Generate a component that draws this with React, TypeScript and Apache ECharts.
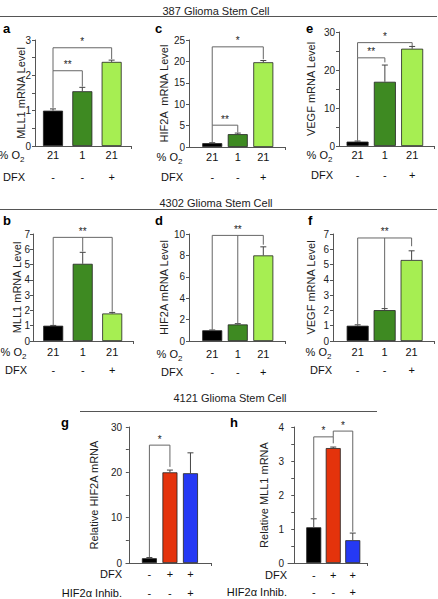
import React, { useEffect, useRef } from 'react';
import * as echarts from 'echarts';

const FONT = '"Liberation Sans", Arial, Helvetica, sans-serif';

// category label rows
const o2Labels = ['21', '1', '21'];
const dfxLabels387 = ['-', '-', '+'];
const dfxLabels4121 = ['-', '+', '+'];
const inhibLabels = ['-', '-', '+'];

// 387 Glioma Stem Cell
const mll1_387 = [1.0, 1.55, 2.38];
const mll1_387Err = [1.05, 1.66, 2.43];
const hif2a_387 = [0.9, 3.0, 19.8];
const hif2a_387Err = [1.0, 3.25, 20.2];
const vegf_387 = [1.15, 16.9, 25.6];
const vegf_387Err = [1.3, 21.3, 26.2];

// 4302 Glioma Stem Cell
const mll1_4302 = [1.0, 5.05, 1.8];
const mll1_4302Err = [1.02, 5.8, 1.87];
const hif2a_4302 = [1.0, 1.55, 8.0];
const hif2a_4302Err = [1.03, 1.62, 8.8];
const vegf_4302 = [1.0, 2.02, 5.3];
const vegf_4302Err = [1.06, 2.12, 5.9];

// 4121 Glioma Stem Cell
const hif2a_4121 = [1.05, 20.0, 19.8];
const hif2a_4121Err = [1.2, 20.5, 24.3];
const mll1_4121 = [1.05, 3.38, 0.67];
const mll1_4121Err = [1.3, 3.41, 0.88];

// significance brackets: [fromIdx, toIdx, top, leftEnd, rightEnd, label, middleEnd]
const bracketsA = [[0, 1, 2.13, 1.08, 1.68, '**', null], [0, 2, 2.78, 2.13, 2.46, '*', null]];
const bracketsC = [[0, 1, 5.1, 1.1, 3.4, '**', null], [0, 2, 23.4, 5.1, 20.5, '*', null]];
const bracketsE = [[0, 1, 23.2, 1.4, 22.0, '**', null], [0, 2, 27.2, 23.2, 26.3, '*', null]];
const bracketsB = [[0, 2, 6.78, 1.05, 1.92, '**', 5.85]];
const bracketsD = [[0, 2, 9.87, 1.05, 9.0, '**', 1.62]];
const bracketsF = [[0, 2, 6.74, 1.08, 6.2, '**', 2.14]];
const bracketsG = [[0, 1, 26.0, 1.25, 21.2, '*', null]];
const bracketsH = [[0, 1, 3.71, 1.32, 3.52, '*', null], [1, 2, 3.88, 3.71, 0.92, '*', null]];

const greenColors = ['#000000', '#3e8a22', '#a6ee52'];
const redBlueColors = ['#000000', '#e4330c', '#2539f4'];

const panels = [
  { letter: 'a', lx: 3, ly: 28, grid: { left: 35, top: 40, width: 96, height: 106 }, xMin: 0.386, xMax: 3.66, yMax: 3, interval: 1, minor: true, barWidth: 20, name: 'MLL1 mRNA Level', nameGap: 9, labelMargin: 4, values: mll1_387, errors: mll1_387Err, colors: greenColors, brackets: bracketsA, rows: [o2Labels, dfxLabels387], rowOff: [9, 31], headers: ['o2', 'DFX'], headerX: 25 },
  { letter: 'c', lx: 155, ly: 28, grid: { left: 189, top: 40, width: 96, height: 107 }, xMin: 0.09, xMax: 3.85, yMax: 25, interval: 5, minor: false, barWidth: 20, name: 'HIF2A  mRNA Level', nameGap: 20, labelMargin: 4, values: hif2a_387, errors: hif2a_387Err, colors: greenColors, brackets: bracketsC, rows: [o2Labels, dfxLabels387], rowOff: [10, 30], headers: ['o2', 'DFX'], headerX: 183 },
  { letter: 'e', lx: 306, ly: 28, grid: { left: 339, top: 32, width: 95, height: 114 }, xMin: 0.32, xMax: 3.8, yMax: 30, interval: 10, minor: true, barWidth: 22, name: 'VEGF mRNA Level', nameGap: 23, labelMargin: 4, values: vegf_387, errors: vegf_387Err, colors: greenColors, brackets: bracketsE, rows: [o2Labels, dfxLabels387], rowOff: [9, 29], headers: ['o2', 'DFX'], headerX: 333 },
  { letter: 'b', lx: 3, ly: 220, grid: { left: 33, top: 234, width: 100, height: 107 }, xMin: 0.315, xMax: 3.705, yMax: 7, interval: 1, minor: false, barWidth: 20, name: 'MLL1 mRNA Level', nameGap: 11, labelMargin: 3, values: mll1_4302, errors: mll1_4302Err, colors: greenColors, brackets: bracketsB, rows: [o2Labels, dfxLabels387], rowOff: [11, 29], headers: ['o2', 'DFX'], headerX: 27 },
  { letter: 'd', lx: 155, ly: 220, grid: { left: 189, top: 234, width: 96, height: 107 }, xMin: 0.09, xMax: 3.85, yMax: 10, interval: 2, minor: false, barWidth: 20, name: 'HIF2A mRNA Level', nameGap: 20, labelMargin: 4, values: hif2a_4302, errors: hif2a_4302Err, colors: greenColors, brackets: bracketsD, rows: [o2Labels, dfxLabels387], rowOff: [13, 31], headers: ['o2', 'DFX'], headerX: 183 },
  { letter: 'f', lx: 308, ly: 220, grid: { left: 333, top: 234, width: 101, height: 107 }, xMin: 0.085, xMax: 3.83, yMax: 7, interval: 1, minor: false, barWidth: 22, name: 'VEGF mRNA Level', nameGap: 17, labelMargin: 4, values: vegf_4302, errors: vegf_4302Err, colors: greenColors, brackets: bracketsF, rows: [o2Labels, dfxLabels387], rowOff: [11, 29], headers: ['o2', 'DFX'], headerX: 332 },
  { letter: 'g', lx: 61, ly: 422, grid: { left: 126, top: 427, width: 85, height: 136 }, xMin: -0.14, xMax: 4.0, yMax: 30, interval: 10, minor: true, barWidth: 15, name: 'Relative HIF2A mRNA', nameGap: 27, labelMargin: 4, values: hif2a_4121, errors: hif2a_4121Err, colors: redBlueColors, brackets: bracketsG, rows: [dfxLabels4121, inhibLabels], rowOff: [11, 30], headers: ['DFX', 'HIF2α Inhib.'], headerX: 122 },
  { letter: 'h', lx: 230, ly: 422, grid: { left: 288, top: 427, width: 79, height: 136 }, xMin: -0.32, xMax: 3.73, yMax: 4, interval: 1, minor: true, barWidth: 15, name: 'Relative MLL1 mRNA', nameGap: 19, labelMargin: 4, values: mll1_4121, errors: mll1_4121Err, colors: redBlueColors, brackets: bracketsH, rows: [dfxLabels4121, inhibLabels], rowOff: [12, 29], headers: ['DFX', 'HIF2α Inhib.'], headerX: 287 },
];

const sections = [
  { title: '387 Glioma Stem Cell', cx: 216, ty: 11, ly: 16.5, x1: 0, x2: 437 },
  { title: '4302 Glioma Stem Cell', cx: 216, ty: 203, ly: 209.5, x1: 0, x2: 437 },
  { title: '4121 Glioma Stem Cell', cx: 230, ty: 398, ly: 411.5, x1: 80, x2: 377 },
];

function buildOption() {
  const grid: any[] = [];
  const xAxis: any[] = [];
  const yAxis: any[] = [];
  const series: any[] = [];
  const graphic: any[] = [];

  panels.forEach((p, i) => {
    grid.push({ ...p.grid, containLabel: false });
    xAxis.push({
      type: 'value', gridIndex: i, min: p.xMin, max: p.xMax,
      axisLine: { show: true, onZero: false, lineStyle: { color: '#555', width: 1 } },
      axisTick: { show: true, customValues: [p.xMax], length: 3, lineStyle: { color: '#555' } },
      axisLabel: { show: false }, splitLine: { show: false },
    });
    yAxis.push({
      type: 'value', gridIndex: i, min: 0, max: p.yMax, interval: p.interval,
      name: p.name, nameLocation: 'middle', nameGap: p.nameGap, nameMoveOverlap: false,
      nameTextStyle: { fontSize: 11, color: '#222', fontFamily: FONT },
      axisLine: { show: true, lineStyle: { color: '#555', width: 1 } },
      axisTick: { show: true, length: 3, lineStyle: { color: '#555' } },
      minorTick: { show: p.minor, splitNumber: 2, length: 3, lineStyle: { color: '#555' } },
      axisLabel: { fontSize: 10, color: '#222', fontFamily: FONT, margin: p.labelMargin },
      splitLine: { show: false },
    });
    series.push({
      type: 'bar', xAxisIndex: i, yAxisIndex: i, barWidth: p.barWidth,
      data: p.values.map((v, k) => ({ value: [k + 1, v], itemStyle: { color: p.colors[k] } })),
      itemStyle: { borderColor: '#222', borderWidth: 0.8 },
      z: 2,
    });
    series.push({
      type: 'custom', xAxisIndex: i, yAxisIndex: i, clip: false, z: 3,
      itemStyle: { color: '#444' },
      data: p.errors.map((e, k) => [k + 1, p.values[k], e]),
      renderItem: (params: any, api: any) => {
        const x = api.value(0);
        const p0 = api.coord([x, api.value(1)]);
        const p1 = api.coord([x, api.value(2)]);
        return {
          type: 'group', children: [
            { type: 'line', shape: { x1: p0[0], y1: p0[1], x2: p1[0], y2: p1[1] }, style: { stroke: '#444', lineWidth: 1 } },
            { type: 'line', shape: { x1: p1[0] - 3, y1: p1[1], x2: p1[0] + 3, y2: p1[1] }, style: { stroke: '#444', lineWidth: 1 } },
          ],
        };
      },
    });
    series.push({
      type: 'custom', xAxisIndex: i, yAxisIndex: i, clip: false, z: 4,
      itemStyle: { color: '#222' },
      data: p.brackets.map((b: any) => [b[0] + 1, b[2]]),
      renderItem: (params: any, api: any) => {
        const b: any = p.brackets[params.dataIndex];
        const xl = b[0] + 1;
        const xr = b[1] + 1;
        const tl = api.coord([xl, b[2]]);
        const tr = api.coord([xr, b[2]]);
        const bl = api.coord([xl, b[3]]);
        const br = api.coord([xr, b[4]]);
        const children: any[] = [
          { type: 'polyline', shape: { points: [bl, tl, tr, br] }, style: { stroke: '#666', lineWidth: 1, fill: 'none' } },
          { type: 'text', x: (tl[0] + tr[0]) / 2, y: tl[1] - 1, style: { text: b[5], fontSize: 10, fill: '#222', fontFamily: FONT, align: 'center', verticalAlign: 'bottom' } },
        ];
        if (b[6] != null) {
          const mt = api.coord([2, b[2]]);
          const mb = api.coord([2, b[6]]);
          children.push({ type: 'line', shape: { x1: mt[0], y1: mt[1], x2: mb[0], y2: mb[1] }, style: { stroke: '#666', lineWidth: 1 } });
        }
        return { type: 'group', children };
      },
    });
    series.push({
      type: 'custom', xAxisIndex: i, yAxisIndex: i, clip: false, z: 4,
      itemStyle: { color: '#111' },
      data: p.values.map((_, k) => [k + 1, 0]),
      renderItem: (params: any, api: any) => {
        const k = params.dataIndex;
        const c = api.coord([k + 1, 0]);
        return {
          type: 'group', children: p.rows.map((row, r) => ({
            type: 'text', x: c[0], y: c[1] + p.rowOff[r],
            style: { text: row[k], fontSize: 11, fill: '#111', fontFamily: FONT, align: 'center', verticalAlign: 'middle' },
          })),
        };
      },
    });

    // headers of label rows
    const axisY = p.grid.top + p.grid.height;
    p.headers.forEach((h, r) => {
      const y = axisY + p.rowOff[r];
      if (h === 'o2') {
        graphic.push({ type: 'text', x: p.headerX - 5, y, style: { text: '% O', fontSize: 11, fill: '#111', fontFamily: FONT, align: 'right', verticalAlign: 'middle' } });
        graphic.push({ type: 'text', x: p.headerX - 5, y: y + 4, style: { text: '2', fontSize: 8, fill: '#111', fontFamily: FONT, align: 'left', verticalAlign: 'middle' } });
      } else {
        graphic.push({ type: 'text', x: p.headerX, y, style: { text: h, fontSize: 11, fill: '#111', fontFamily: FONT, align: 'right', verticalAlign: 'middle' } });
      }
    });
    graphic.push({ type: 'text', x: p.lx, y: p.ly, style: { text: p.letter, fontSize: 13, fontWeight: 'bold', fill: '#000', fontFamily: FONT, align: 'left', verticalAlign: 'middle' } });
  });

  sections.forEach((s) => {
    graphic.push({ type: 'text', x: s.cx, y: s.ty, style: { text: s.title, fontSize: 11, fill: '#222', fontFamily: FONT, align: 'center', verticalAlign: 'middle' } });
    graphic.push({ type: 'line', shape: { x1: s.x1, y1: s.ly, x2: s.x2, y2: s.ly }, style: { stroke: '#555', lineWidth: 1 } });
  });

  return { animation: false, backgroundColor: '#ffffff', grid, xAxis, yAxis, series, graphic };
}

export default function App() {
  const ref = useRef<HTMLDivElement>(null);
  useEffect(() => {
    if (!ref.current) return;
    const chart = echarts.init(ref.current, null, { renderer: 'svg' });
    chart.setOption(buildOption() as any);
    return () => chart.dispose();
  }, []);
  return <div ref={ref} style={{ position: 'absolute', left: 0, top: 0, width: 438, height: 599 }} />;
}
